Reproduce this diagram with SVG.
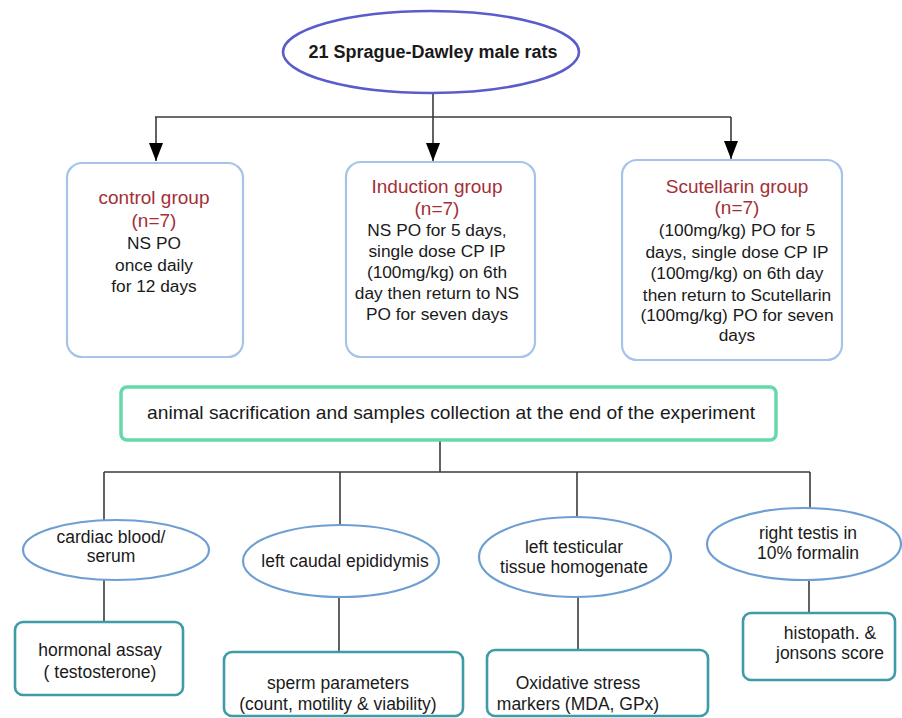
<svg xmlns="http://www.w3.org/2000/svg" width="902" height="718" viewBox="0 0 902 718">
<style>
text{font-family:"Liberation Sans",Arial,sans-serif;fill:#1a1a1a;text-anchor:middle}
.t{font-size:17.3px}
.r{font-size:19px;fill:#a32f38}
.b{font-size:17.5px}
.grp{fill:#fff;stroke:#a6c4ea;stroke-width:2.2}
.ell{fill:#fff;stroke:#6f9fd2;stroke-width:2.2}
.res{fill:#fff;stroke:#3f9ba8;stroke-width:2.6}
.con{fill:none;stroke:#3a3a3a;stroke-width:1.6}
</style>
<defs>
<marker id="ah" markerUnits="userSpaceOnUse" viewBox="0 0 18 14" refX="18" refY="7" markerWidth="18" markerHeight="14" orient="auto">
<path d="M0,0 L18,7 L0,14 z" fill="#000"/>
</marker>
</defs>
<rect width="902" height="718" fill="#fff"/>
<g id="connectors">
<path class="con" d="M155,117 H731"/>
<path class="con" d="M156,117 V161" marker-end="url(#ah)"/>
<path class="con" d="M433,92 V161" marker-end="url(#ah)"/>
<path class="con" d="M731,117 V159" marker-end="url(#ah)"/>
<path class="con" d="M440,440 V472"/>
<path class="con" d="M104,472 H810"/>
<path class="con" d="M104,472 V520"/>
<path class="con" d="M340,472 V525"/>
<path class="con" d="M577,472 V517"/>
<path class="con" d="M810,472 V508"/>
<path class="con" d="M104,580 V622"/>
<path class="con" d="M339,597 V652"/>
<path class="con" d="M578,597 V650"/>
<path class="con" d="M809,580 V613"/>
</g>
<g id="rats">
<ellipse cx="431" cy="52" rx="148" ry="41" fill="#fff" stroke="#5a5ccc" stroke-width="2.6"/>
<text x="433" y="58" style="font-size:18px;font-weight:bold">21 Sprague-Dawley male rats</text>
</g>
<g id="control">
<rect class="grp" x="67" y="163" width="176" height="194" rx="15"/>
<text class="r" x="154" y="204">control group</text>
<text class="r" x="154" y="227">(n=7)</text>
<text class="t" x="154" y="249">NS PO</text>
<text class="t" x="154" y="271">once daily</text>
<text class="t" x="154" y="292">for 12 days</text>
</g>
<g id="induction">
<rect class="grp" x="346" y="162" width="189" height="195" rx="15"/>
<text class="r" x="437" y="193">Induction group</text>
<text class="r" x="437" y="215">(n=7)</text>
<text class="t" x="437" y="236">NS PO for 5 days,</text>
<text class="t" x="437" y="257">single dose CP IP</text>
<text class="t" x="437" y="278">(100mg/kg) on 6th</text>
<text class="t" x="437" y="299">day then return to NS</text>
<text class="t" x="437" y="320">PO for seven days</text>
</g>
<g id="scutellarin">
<rect class="grp" x="622" y="160" width="220" height="200" rx="15"/>
<text class="r" x="737" y="193">Scutellarin group</text>
<text class="r" x="737" y="214">(n=7)</text>
<text class="t" x="737" y="236">(100mg/kg) PO for 5</text>
<text class="t" x="737" y="258">days, single dose CP IP</text>
<text class="t" x="737" y="279">(100mg/kg) on 6th day</text>
<text class="t" x="737" y="301">then return to Scutellarin</text>
<text class="t" x="737" y="321">(100mg/kg) PO for seven</text>
<text class="t" x="737" y="341">days</text>
</g>
<g id="sacrifice">
<rect x="121" y="387" width="655" height="53" rx="6" fill="#fff" stroke="#66d9ab" stroke-width="3.5"/>
<text x="451" y="419" style="font-size:19px" textLength="608" lengthAdjust="spacingAndGlyphs">animal sacrification and samples collection at the end of the experiment</text>
</g>
<g id="cardiac">
<ellipse class="ell" cx="116" cy="550" rx="93" ry="30"/>
<text class="b" x="111" y="543">cardiac blood/</text>
<text class="b" x="111" y="562">serum</text>
</g>
<g id="caudal">
<ellipse class="ell" cx="341" cy="561" rx="98" ry="36"/>
<text class="b" x="345" y="567">left caudal epididymis</text>
</g>
<g id="testicular">
<ellipse class="ell" cx="575" cy="557" rx="96" ry="40"/>
<text class="b" x="574" y="553">left testicular</text>
<text class="b" x="574" y="573">tissue homogenate</text>
</g>
<g id="testis">
<ellipse class="ell" cx="804" cy="544" rx="97" ry="36"/>
<text class="b" x="808" y="539">right testis in</text>
<text class="b" x="808" y="559">10% formalin</text>
</g>
<g id="hormonal">
<rect class="res" x="15" y="622" width="168" height="73" rx="8"/>
<text class="b" x="100" y="656">hormonal assay</text>
<text class="b" x="100" y="678">( testosterone)</text>
</g>
<g id="sperm">
<rect class="res" x="224" y="652" width="239" height="64" rx="8"/>
<text class="b" x="338" y="689">sperm parameters</text>
<text class="b" x="338" y="710">(count, motility &amp; viability)</text>
</g>
<g id="oxidative">
<rect class="res" x="487" y="650" width="221" height="66" rx="8"/>
<text class="b" x="578" y="689">Oxidative stress</text>
<text class="b" x="578" y="710">markers (MDA, GPx)</text>
</g>
<g id="histopath">
<rect class="res" x="743" y="613" width="152" height="67" rx="8"/>
<text class="b" x="830" y="639">histopath. &amp;</text>
<text class="b" x="830" y="659">jonsons score</text>
</g>
</svg>
